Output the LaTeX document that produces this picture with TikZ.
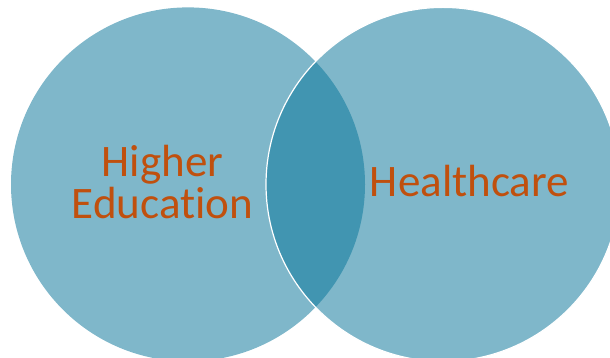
\documentclass[tikz,border=0pt]{standalone}
\usepackage{fontspec}
\setmainfont{Carlito}[Ligatures=NoCommon]
\usetikzlibrary{positioning}
\definecolor{vennlight}{HTML}{7FB7CA}
\definecolor{venndark}{HTML}{4195B1}
\definecolor{venntext}{HTML}{C0500E}

\begin{document}
\begin{tikzpicture}[x=0.75pt,y=0.75pt,
	vennset/.style={circle,fill=vennlight,minimum size=265.5pt,inner sep=0pt},
	setname/.style={text=venntext,align=center,inner sep=0pt,font=\fontsize{33.8}{31.5}\selectfont}]
		\useasboundingbox (0,0) rectangle (610,357);

		\node [vennset] (edu) at (188,172.6) {};
		\node [vennset] (care) at (443,172.6) {};

		% overlap of the two sets
		\begin{scope}
			\clip (edu.center) circle [radius=177];
			\fill [venndark] (care.center) circle [radius=177];
		\end{scope}
		\draw [white,line width=0.9pt] (care.center) circle [radius=177];

		\node [setname,anchor=center] (edutext) at (162.5,175) {Higher\\Education};
		\node [setname,anchor=base] (caretext) at (469.5,160) {Healthcare};
	\end{tikzpicture}
\end{document}
